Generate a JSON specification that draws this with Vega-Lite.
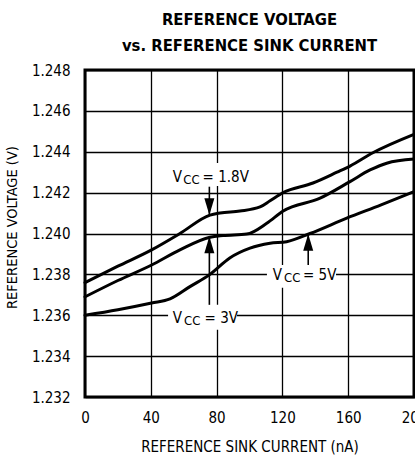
{
  "$schema": "https://vega.github.io/schema/vega-lite/v6.json",
  "autosize": "none",
  "width": 329,
  "height": 327,
  "padding": {"left": 85, "top": 70, "right": 1, "bottom": 59},
  "background": "white",
  "title": {
    "text": ["REFERENCE VOLTAGE", "vs. REFERENCE SINK CURRENT"],
    "font": "DejaVu Sans Condensed, Roboto Condensed, Liberation Sans Narrow, Roboto, sans-serif",
    "fontSize": 16.5,
    "fontWeight": "bold",
    "color": "black",
    "lineHeight": 26.7,
    "anchor": "middle",
    "frame": "group",
    "baseline": "alphabetic",
    "offset": -5
  },
  "config": {
    "view": {"stroke": "black", "strokeWidth": 3},
    "axis": {
      "labelFont": "DejaVu Sans Condensed, Roboto Condensed, Liberation Sans Narrow, Roboto, sans-serif",
      "labelFontSize": 15,
      "labelColor": "black",
      "labelFlush": false,
      "titleFont": "DejaVu Sans Condensed, Roboto Condensed, Liberation Sans Narrow, Roboto, sans-serif",
      "titleFontSize": 15,
      "titleFontWeight": "normal",
      "titleColor": "black",
      "grid": true,
      "gridColor": "black",
      "gridWidth": 1.3,
      "gridOpacity": 1,
      "domain": false,
      "ticks": false
    }
  },
  "datasets": {
    "curves": [
      {"series": "VCC = 1.8V", "current": 0, "voltage": 1.2376},
      {"series": "VCC = 1.8V", "current": 20, "voltage": 1.2384},
      {"series": "VCC = 1.8V", "current": 40.5, "voltage": 1.2392},
      {"series": "VCC = 1.8V", "current": 57.7, "voltage": 1.2400},
      {"series": "VCC = 1.8V", "current": 76, "voltage": 1.2409},
      {"series": "VCC = 1.8V", "current": 82.1, "voltage": 1.2410},
      {"series": "VCC = 1.8V", "current": 94.2, "voltage": 1.2411},
      {"series": "VCC = 1.8V", "current": 106.4, "voltage": 1.2413},
      {"series": "VCC = 1.8V", "current": 112.5, "voltage": 1.2416},
      {"series": "VCC = 1.8V", "current": 120.4, "voltage": 1.2420},
      {"series": "VCC = 1.8V", "current": 138.6, "voltage": 1.24247},
      {"series": "VCC = 1.8V", "current": 153.2, "voltage": 1.2430},
      {"series": "VCC = 1.8V", "current": 161.1, "voltage": 1.24330},
      {"series": "VCC = 1.8V", "current": 175, "voltage": 1.24395},
      {"series": "VCC = 1.8V", "current": 200, "voltage": 1.24485},
      {"series": "VCC = 3V", "current": 0, "voltage": 1.2369},
      {"series": "VCC = 3V", "current": 20, "voltage": 1.2377},
      {"series": "VCC = 3V", "current": 40.5, "voltage": 1.23846},
      {"series": "VCC = 3V", "current": 57.7, "voltage": 1.2392},
      {"series": "VCC = 3V", "current": 76, "voltage": 1.23982},
      {"series": "VCC = 3V", "current": 83.9, "voltage": 1.23990},
      {"series": "VCC = 3V", "current": 98.3, "voltage": 1.23997},
      {"series": "VCC = 3V", "current": 110.5, "voltage": 1.2405},
      {"series": "VCC = 3V", "current": 120.5, "voltage": 1.2411},
      {"series": "VCC = 3V", "current": 142.9, "voltage": 1.24173},
      {"series": "VCC = 3V", "current": 161.1, "voltage": 1.24254},
      {"series": "VCC = 3V", "current": 173.3, "voltage": 1.24311},
      {"series": "VCC = 3V", "current": 183.4, "voltage": 1.24344},
      {"series": "VCC = 3V", "current": 200, "voltage": 1.24364},
      {"series": "VCC = 5V", "current": 0, "voltage": 1.2360},
      {"series": "VCC = 5V", "current": 20, "voltage": 1.23627},
      {"series": "VCC = 5V", "current": 40.5, "voltage": 1.23660},
      {"series": "VCC = 5V", "current": 51.7, "voltage": 1.2368},
      {"series": "VCC = 5V", "current": 63.8, "voltage": 1.2374},
      {"series": "VCC = 5V", "current": 76, "voltage": 1.2380},
      {"series": "VCC = 5V", "current": 88, "voltage": 1.2388},
      {"series": "VCC = 5V", "current": 100.3, "voltage": 1.23928},
      {"series": "VCC = 5V", "current": 112.5, "voltage": 1.23952},
      {"series": "VCC = 5V", "current": 122.6, "voltage": 1.2396},
      {"series": "VCC = 5V", "current": 136.8, "voltage": 1.2400},
      {"series": "VCC = 5V", "current": 159.1, "voltage": 1.24075},
      {"series": "VCC = 5V", "current": 180, "voltage": 1.2414},
      {"series": "VCC = 5V", "current": 200, "voltage": 1.24205}
    ],
    "boxes": [
      {"series": "VCC = 1.8V", "x1": 51.7, "x2": 95.5, "y1": 1.24233, "y2": 1.24345},
      {"series": "VCC = 3V", "x1": 50.5, "x2": 92.4, "y1": 1.23529, "y2": 1.23651},
      {"series": "VCC = 5V", "x1": 110.6, "x2": 152.6, "y1": 1.23734, "y2": 1.23846}
    ],
    "arrows": [
      {"series": "VCC = 1.8V", "x": 75.6, "start": 1.24229, "tip": 1.24091},
      {"series": "VCC = 3V", "x": 75.6, "start": 1.23651, "tip": 1.23985},
      {"series": "VCC = 5V", "x": 135.7, "start": 1.23846, "tip": 1.23997}
    ],
    "labels": [
      {"series": "VCC = 1.8V", "text": "V", "x": 53.3, "y": 1.24254},
      {"series": "VCC = 1.8V", "text": "= 1.8V", "x": 71.5, "y": 1.24254},
      {"series": "VCC = 3V", "text": "V", "x": 53.3, "y": 1.23561},
      {"series": "VCC = 3V", "text": "= 3V", "x": 72.7, "y": 1.23561},
      {"series": "VCC = 5V", "text": "V", "x": 114.1, "y": 1.23773},
      {"series": "VCC = 5V", "text": "= 5V", "x": 132.5, "y": 1.23773}
    ],
    "subscripts": [
      {"series": "VCC = 1.8V", "text": "CC", "x": 59.8, "y": 1.24254},
      {"series": "VCC = 3V", "text": "CC", "x": 60.2, "y": 1.23561},
      {"series": "VCC = 5V", "text": "CC", "x": 121.0, "y": 1.23773}
    ]
  },
  "layer": [
    {
      "data": {"name": "curves"},
      "mark": {"type": "line", "interpolate": "monotone", "color": "black", "strokeWidth": 3, "strokeCap": "round"},
      "encoding": {
        "x": {"field": "current", "type": "quantitative", "title": "REFERENCE SINK CURRENT (nA)",
              "scale": {"domain": [0, 200], "nice": false},
              "axis": {"values": [0, 40, 80, 120, 160, 200], "labelPadding": 13, "titlePadding": 14}},
        "y": {"field": "voltage", "type": "quantitative", "title": "REFERENCE VOLTAGE (V)",
              "scale": {"domain": [1.232, 1.248], "nice": false, "zero": false},
              "axis": {"values": [1.232, 1.234, 1.236, 1.238, 1.240, 1.242, 1.244, 1.246, 1.248], "format": ".3f", "labelPadding": 15, "titlePadding": 12, "titleFontSize": 14.5, "titleY": 157}},
        "detail": {"field": "series"}
      }
    },
    {
      "data": {"name": "boxes"},
      "mark": {"type": "rect", "color": "white"},
      "encoding": {
        "x": {"field": "x1", "type": "quantitative"},
        "x2": {"field": "x2"},
        "y": {"field": "y1", "type": "quantitative"},
        "y2": {"field": "y2"}
      }
    },
    {
      "data": {"name": "arrows"},
      "mark": {"type": "rule", "color": "black", "strokeWidth": 1.6},
      "encoding": {
        "x": {"field": "x", "type": "quantitative"},
        "y": {"field": "start", "type": "quantitative"},
        "y2": {"field": "tip"}
      }
    },
    {
      "data": {"name": "arrows"},
      "transform": [{"filter": "datum.tip > datum.start"}],
      "mark": {"type": "point", "shape": "M0,0L-0.6,2L0.6,2Z", "size": 279, "filled": true, "color": "black", "opacity": 1},
      "encoding": {
        "x": {"field": "x", "type": "quantitative"},
        "y": {"field": "tip", "type": "quantitative"}
      }
    },
    {
      "data": {"name": "arrows"},
      "transform": [{"filter": "datum.tip < datum.start"}],
      "mark": {"type": "point", "shape": "M0,0L-0.6,-2L0.6,-2Z", "size": 279, "filled": true, "color": "black", "opacity": 1},
      "encoding": {
        "x": {"field": "x", "type": "quantitative"},
        "y": {"field": "tip", "type": "quantitative"}
      }
    },
    {
      "data": {"name": "labels"},
      "mark": {"type": "text", "align": "left", "baseline": "alphabetic", "font": "DejaVu Sans Condensed, Roboto Condensed, Liberation Sans Narrow, Roboto, sans-serif", "fontSize": 15, "color": "black"},
      "encoding": {
        "x": {"field": "x", "type": "quantitative"},
        "y": {"field": "y", "type": "quantitative"},
        "text": {"field": "text"}
      }
    },
    {
      "data": {"name": "subscripts"},
      "mark": {"type": "text", "align": "left", "baseline": "alphabetic", "font": "DejaVu Sans Condensed, Roboto Condensed, Liberation Sans Narrow, Roboto, sans-serif", "fontSize": 13, "dy": 2, "color": "black"},
      "encoding": {
        "x": {"field": "x", "type": "quantitative"},
        "y": {"field": "y", "type": "quantitative"},
        "text": {"field": "text"}
      }
    }
  ]
}
